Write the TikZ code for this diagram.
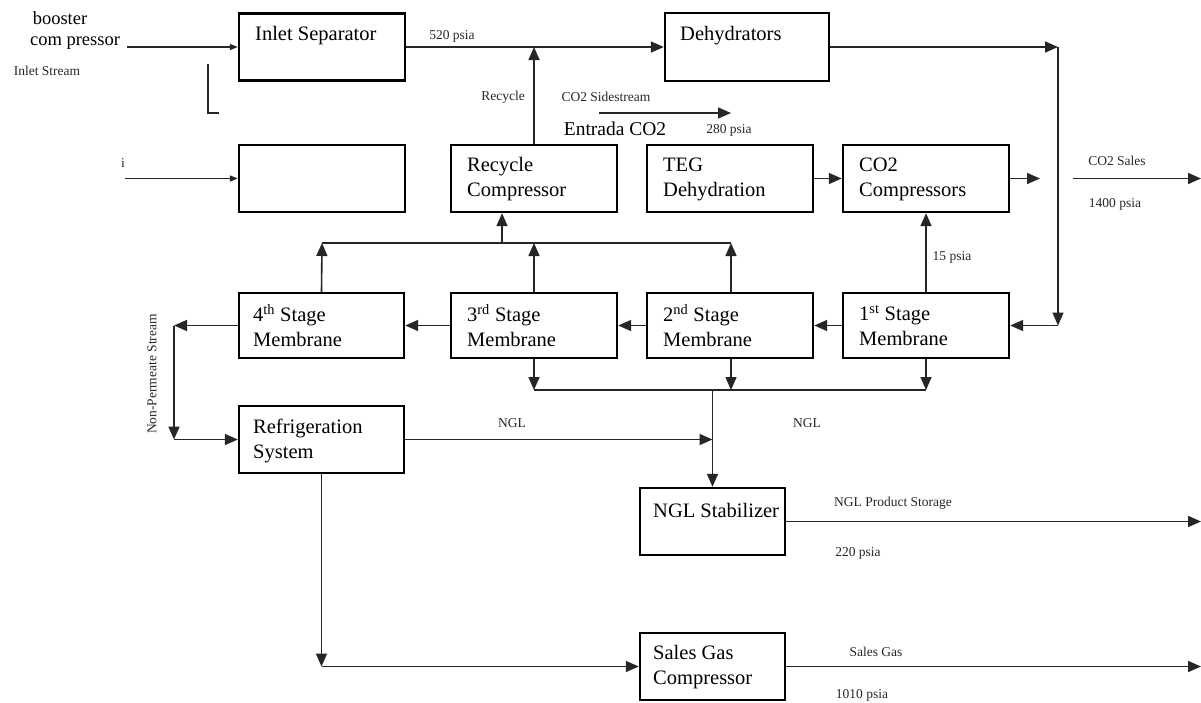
\documentclass[tikz,border=0pt]{standalone}
\usepackage{fontspec}
\setmainfont{Liberation Serif}
\usetikzlibrary{arrows.meta}
\begin{document}
\begin{tikzpicture}[x=1pt,y=-1pt,
  box/.style={draw, line width=2.4pt, inner sep=0pt, minimum width=166pt, minimum height=67pt},
  conn/.style={line width=1.6pt, draw=black!85},
  arr/.style={conn, -{Triangle[length=13pt,width=11pt]}},
  sarr/.style={conn, -{Triangle[length=8pt,width=6pt]}},
  btxt/.style={font=\fontsize{20.5}{25}\selectfont, anchor=west, inner sep=0pt, align=left},
  lbl/.style={font=\fontsize{13.5}{16}\selectfont, inner sep=0pt, text=black!85},
]
\useasboundingbox (0,0) rectangle (1201,702);
% boxes
\node[box] (insep) at (322,47) {};
\node[box] (empty) at (322,178.5) {};
\node[box, minimum width=164pt, minimum height=68pt] (dehyd) at (747,47) {};
\node[box] (recyc) at (534,178.5) {};
\node[box] (teg) at (730,178.5) {};
\node[box] (co2c) at (926,178.5) {};
\node[box, minimum width=165pt, minimum height=65pt] (m4) at (321.5,325.5) {};
\node[box, minimum height=65pt] (m3) at (534,325.5) {};
\node[box, minimum height=65pt] (m2) at (730,325.5) {};
\node[box, minimum height=65pt] (m1) at (926,325.5) {};
\node[box, minimum width=165pt] (refr) at (321.5,439.5) {};
\node[box, minimum width=145pt] (ngls) at (712.5,521.5) {};
\node[box, minimum width=145pt] (sgc) at (712.5,666.5) {};
% box texts
\node[btxt] (t-insep) at (255,36) {Inlet Separator};
\node[btxt] (t-dehyd) at (680,36) {Dehydrators};
\node[btxt] (t-recyc) at (467,179.5) {Recycle\\Compressor};
\node[btxt] (t-teg) at (663,179.5) {TEG\\Dehydration};
\node[btxt] (t-co2c) at (859,179.5) {CO2\\Compressors};
\node[btxt] (t-m4) at (253,325.5) {4\textsuperscript{th} Stage\\Membrane};
\node[btxt] (t-m3) at (467,325.5) {3\textsuperscript{rd} Stage\\Membrane};
\node[btxt] (t-m2) at (663,325.5) {2\textsuperscript{nd} Stage\\Membrane};
\node[btxt] (t-m1) at (859,325.5) {1\textsuperscript{st} Stage\\Membrane};
\node[btxt] (t-refr) at (253,440.5) {Refrigeration\\System};
\node[btxt] (t-ngls) at (653,510) {NGL Stabilizer};
\node[btxt] (t-sgc) at (653,667.5) {Sales Gas\\Compressor};
% free labels
\node[font=\fontsize{18.5}{22}\selectfont, inner sep=0pt] (l-boost) at (60,18) {booster};
\node[font=\fontsize{18.5}{22}\selectfont, inner sep=0pt] (l-comp) at (75,43) {com pressor};
\node[lbl] (l-inlet) at (47,71) {Inlet Stream};
\node[lbl] (l-i) at (123,163) {i};
\node[lbl] (l-520) at (452,36) {520 psia};
\node[lbl] (l-recycle) at (503,97) {Recycle};
\node[lbl] (l-side) at (606,97) {CO2 Sidestream};
\node[font=\fontsize{19.5}{23}\selectfont, inner sep=0pt] (l-entrada) at (615,129) {Entrada CO2};
\node[lbl] (l-280) at (729,130) {280 psia};
\node[lbl] (l-co2s) at (1117,161) {CO2 Sales};
\node[lbl] (l-1400) at (1115,204) {1400 psia};
\node[lbl] (l-15) at (952,257) {15 psia};
\node[lbl] (l-ngl1) at (512,423) {NGL};
\node[lbl] (l-ngl2) at (807,423) {NGL};
\node[lbl, rotate=90] (l-nonp) at (152,374) {Non-Permeate Stream};
\node[lbl] (l-nps) at (893,503) {NGL Product Storage};
\node[lbl] (l-220) at (858,553) {220 psia};
\node[lbl] (l-sg) at (876,652) {Sales Gas};
\node[lbl] (l-1010) at (862,695) {1010 psia};
% coordinates
\coordinate (inA) at (127,47);
\coordinate (L1) at (208,64);
\coordinate (L2) at (219,113);
\coordinate (iA) at (125,178.5);
\coordinate (sideA) at (599,113);
\coordinate (sideB) at (731,113);
\coordinate (c1) at (1058,47);
\coordinate (c2) at (1058,325.5);
\coordinate (co2out) at (1040,178.5);
\coordinate (salesA) at (1073,178.5);
\coordinate (salesB) at (1201,178.5);
\coordinate (h1) at (322,243);
\coordinate (h2) at (731,243);
\coordinate (rcin) at (502,243);
\coordinate (n1) at (534,390);
\coordinate (n2) at (926,390);
\coordinate (nj) at (712.5,390);
\coordinate (nr) at (712.5,439.5);
\coordinate (np1) at (174,325.5);
\coordinate (np2) at (174,439.5);
\coordinate (sg1) at (321.5,666.5);
\coordinate (nglout) at (1201,521.5);
\coordinate (sgout) at (1201,666.5);
% connectors
\draw[sarr] (inA) -- (insep.west);
\draw[conn] (L1) |- (L2);
\draw[sarr] (iA) -- (empty.west);
\draw[arr] (insep.east) -- (dehyd.west);
\draw[arr] (recyc.north) -- (recyc.north |- insep.east);
\draw[arr] (sideA) -- (sideB);
\draw[arr] (dehyd.east) -- (c1);
\draw[arr] (c1) -- (c2);
\draw[arr] (c2) -- (m1.east);
\draw[arr] (teg.east) -- (co2c.west);
\draw[arr] (co2c.east) -- (co2out);
\draw[arr] (salesA) -- (salesB);
\draw[arr] (m1.north) -- (co2c.south);
\draw[arr] (m1.west) -- (m2.east);
\draw[arr] (m2.west) -- (m3.east);
\draw[arr] (m3.west) -- (m4.east);
\draw[conn] (h1) -- (h2);
\draw[arr] (m4.north) -- (h1);
\draw[arr] (m3.north) -- (m3.north |- h1);
\draw[arr] (m2.north -| h2) -- (h2);
\draw[arr] (rcin) -- (rcin |- recyc.south);
\draw[conn] (n1) -- (n2);
\draw[arr] (m3.south) -- (n1);
\draw[arr] (m2.south -| h2) -- (h2 |- n1);
\draw[arr] (m1.south) -- (n2);
\draw[arr] (nj) -- (ngls.north);
\draw[arr] (refr.east) -- (nr);
\draw[arr] (m4.west) -- (np1);
\draw[arr] (np1) -- (np2);
\draw[arr] (np2) -- (refr.west);
\draw[arr] (refr.south) -- (sg1);
\draw[arr] (sg1) -- (sgc.west);
\draw[arr] (ngls.east) -- (nglout);
\draw[arr] (sgc.east) -- (sgout);
\end{tikzpicture}
\end{document}
